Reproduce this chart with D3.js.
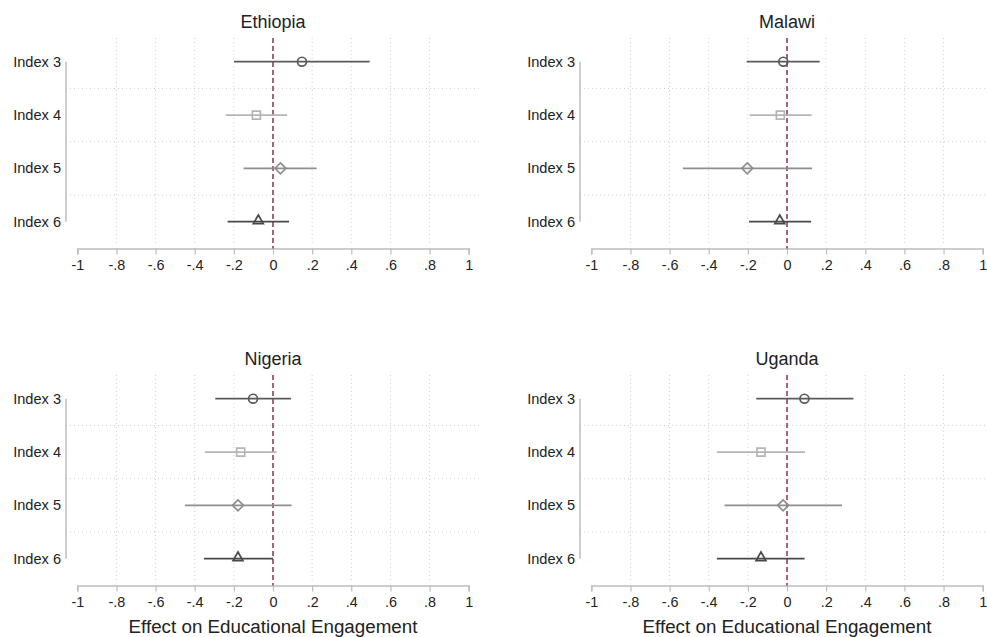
<!DOCTYPE html>
<html><head><meta charset="utf-8">
<script src="https://cdn.jsdelivr.net/npm/d3@7"></script>
<style>body{margin:0;background:#fff}svg{display:block}</style>
</head><body>
<svg id="c" width="987" height="637"></svg>
<script>
const countries = ["Ethiopia", "Malawi", "Nigeria", "Uganda"];
const indices = ["Index 3", "Index 4", "Index 5", "Index 6"];
const xTicks = [-1, -0.8, -0.6, -0.4, -0.2, 0, 0.2, 0.4, 0.6, 0.8, 1];
const xTickLabels = ["-1", "-.8", "-.6", "-.4", "-.2", "0", ".2", ".4", ".6", ".8", "1"];
const xTitle = "Effect on Educational Engagement";

// point estimates and CI bounds, per country, in order Index 3..6
const estEthiopia = [0.148, -0.085, 0.038, -0.075];
const loEthiopia  = [-0.199, -0.242, -0.150, -0.232];
const hiEthiopia  = [0.494, 0.072, 0.223, 0.082];
const estMalawi = [-0.019, -0.034, -0.203, -0.037];
const loMalawi  = [-0.206, -0.191, -0.532, -0.194];
const hiMalawi  = [0.167, 0.126, 0.128, 0.123];
const estNigeria = [-0.102, -0.165, -0.179, -0.179];
const loNigeria  = [-0.295, -0.348, -0.450, -0.353];
const hiNigeria  = [0.092, 0.019, 0.095, 0.000];
const estUganda = [0.089, -0.133, -0.020, -0.133];
const loUganda  = [-0.157, -0.358, -0.319, -0.358];
const hiUganda  = [0.339, 0.092, 0.281, 0.090];

const data = {
  Ethiopia: [estEthiopia, loEthiopia, hiEthiopia],
  Malawi: [estMalawi, loMalawi, hiMalawi],
  Nigeria: [estNigeria, loNigeria, hiNigeria],
  Uganda: [estUganda, loUganda, hiUganda]
};

const lineColors = ["#5a5a5a", "#b5b5b5", "#8e8e8e", "#484848"];
// custom symbol: square rotated 45deg (Stata diamond)
const symbolDiamondSq = {
  draw(ctx, size) {
    const r = Math.sqrt(size / 2);
    ctx.moveTo(0, -r); ctx.lineTo(r, 0); ctx.lineTo(0, r); ctx.lineTo(-r, 0); ctx.closePath();
  }
};
const markerTypes = [d3.symbolCircle, d3.symbolSquare, symbolDiamondSq, d3.symbolTriangle];
const markerSizes = [62, 64, 60, 42];
const font = "Arial, 'Liberation Sans', sans-serif";

const svg = d3.select("#c");

countries.forEach((country, i) => {
  const col = i % 2, row = Math.floor(i / 2);
  const ox = col * 514, oy = row * 337;
  const g = svg.append("g").attr("transform", `translate(${ox},${oy})`);
  const x = d3.scaleLinear().domain([-1, 1]).range([77.3, 468.7]);
  const y = d3.scalePoint().domain(indices).range([61.7, 221.7]);
  const step = y.step();
  const axisY = 248.5;

  // vertical dotted gridlines
  g.selectAll(".vg").data(xTicks.filter(t => Math.abs(t) > 1e-9 && Math.abs(t) < 0.999))
    .enter().append("line")
    .attr("x1", d => x(d)).attr("x2", d => x(d))
    .attr("y1", 38).attr("y2", 246)
    .attr("stroke", "#cfcfcf").attr("stroke-width", 1).attr("stroke-dasharray", "1,3");

  // horizontal dotted gridlines between categories
  g.selectAll(".hg").data(indices.slice(0, -1))
    .enter().append("line")
    .attr("x1", 66).attr("x2", 481)
    .attr("y1", d => y(d) + step / 2).attr("y2", d => y(d) + step / 2)
    .attr("stroke", "#cfcfcf").attr("stroke-width", 1).attr("stroke-dasharray", "1,3");

  // y axis line
  g.append("line").attr("x1", 66).attr("x2", 66)
    .attr("y1", y(indices[0])).attr("y2", y(indices[3]))
    .attr("stroke", "#bdbdbd").attr("stroke-width", 1.5);

  // y labels
  g.selectAll(".yl").data(indices).enter().append("text")
    .attr("x", 61).attr("y", d => y(d) + 5)
    .attr("text-anchor", "end")
    .attr("font-family", font).attr("font-size", 14.6).attr("fill", "#222")
    .text(d => d);

  // x axis
  const xAxis = d3.axisBottom(x).tickValues(xTicks)
    .tickFormat((d, k) => xTickLabels[k]).tickSize(6).tickPadding(5);
  const ax = g.append("g").attr("transform", `translate(0,${axisY})`).call(xAxis);
  ax.select(".domain").attr("stroke", "#bdbdbd").attr("stroke-width", 1.5);
  ax.selectAll(".tick line").attr("stroke", "#bdbdbd").attr("stroke-width", 1.2);
  ax.selectAll(".tick text").attr("font-family", font).attr("font-size", 14.4).attr("fill", "#222");

  // zero reference line
  g.append("line").attr("x1", x(0)).attr("x2", x(0))
    .attr("y1", 38).attr("y2", axisY)
    .attr("stroke", "#8e3242").attr("stroke-width", 1.5).attr("stroke-dasharray", "5,3");

  // CI lines and markers
  const [est, lo, hi] = data[country];
  indices.forEach((idx, k) => {
    g.append("line")
      .attr("x1", x(lo[k])).attr("x2", x(hi[k]))
      .attr("y1", y(idx)).attr("y2", y(idx))
      .attr("stroke", lineColors[k]).attr("stroke-width", 1.8);
    g.append("path")
      .attr("d", d3.symbol().type(markerTypes[k]).size(markerSizes[k])())
      .attr("transform", `translate(${x(est[k])},${y(idx) + (k === 3 ? -1 : 0)})`)
      .attr("fill", "none")
      .attr("stroke", lineColors[k]).attr("stroke-width", 1.7);
  });

  // title
  g.append("text").attr("x", x(0)).attr("y", 28)
    .attr("text-anchor", "middle")
    .attr("font-family", font).attr("font-size", 18).attr("fill", "#222")
    .text(country);

  if (row === 1) {
    g.append("text").attr("x", x(0)).attr("y", 296)
      .attr("text-anchor", "middle")
      .attr("font-family", font).attr("font-size", 18.8).attr("fill", "#222")
      .text(xTitle);
  }
});
</script>
</body></html>
